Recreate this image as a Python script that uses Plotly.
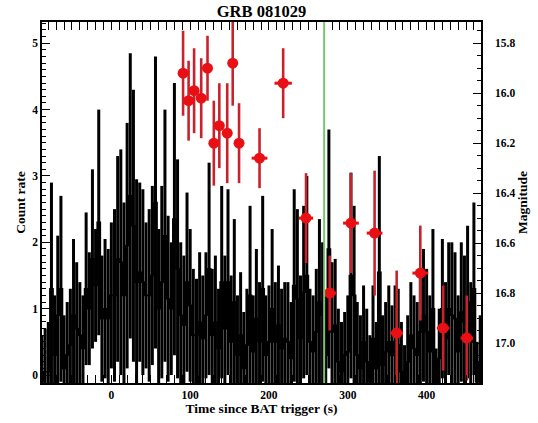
import plotly.graph_objects as go

# ---- BAT light curve (4 s bins starting at -88 s) ----
bin_start = -88.0
bin_width = 4.0
bat_rate = [
    -0.1, 0.05, 0.05, 1.3, 0.3, 0.9, 1.3, 0.1, 0.3, 0.45,
    0.9, 0.7, 0.6, 0.4, 1.3, 1.0, 1.75, 1.35, 2.3, 0.85,
    1.0, 0.85, 1.2, 1.2, 1.75, 1.7, 1.2, 1.95, 2.7, 2.25,
    1.4, 1.55, 1.4, 1.2, 1.2, 1.5, 2.6, 1.0, 1.4, 2.1,
    1.15, 1.0, 2.35, 1.6, 0.9, 0.75, 1.4, 1.05, 0.6, 0.6,
    0.8, 0.55, 0.9, 1.6, 0.6, 0.8, 0.4, 1.4, 0.7, 1.4,
    0.5, 1.1, 0.3, 0.6, 0.1, 0.45, 1.2, 0.35, 0.85, 0.5,
    1.3, 0.3, 0.5, 1.0, 0.5, 0.75, 0.4, 0.55, 0.5, 0.25,
    1.35, 1.15, 0.55, 1.25, 1.5, 0.5, 0.35, 0.65, 1.1, 0.9,
    0.3, 1.9, 0.65, 0.75, 0.2, 0.05, 0.3, 0.35, 1.5, 1.2,
    0.3, 0.1, 0.5, 0.2, -0.1, 0.55, 0.1, 1.55, 0.15, 0.35,
    0.5, 0.3, 0.5, 0.45, 0.05, -0.2, 0.2, 0.6, 0.4, 0.3,
    0.65, 0.9, 0.65, 0.35, 1.0, -0.2, 0.25, 1.0, 0.55, 1.0,
    0.9, 0.85, 0.35, 0.95, 0.8, 1.1, 0.5, 1.3, -0.1, 0.2,
]
bat_err = [
    0.7, 0.65, 0.75, 1.6, 0.9, 1.2, 1.4, 0.8, 0.8, 0.85,
    1.15, 1.0, 0.8, 0.8, 1.15, 0.85, 1.35, 0.85, 1.7, 0.95,
    1.05, 1.05, 1.1, 1.3, 1.55, 1.7, 1.4, 1.85, 2.15, 2.05,
    1.55, 1.35, 1.4, 1.1, 1.3, 1.35, 2.2, 1.2, 1.45, 1.9,
    1.25, 1.0, 2.05, 1.65, 1.1, 1.05, 1.35, 1.15, 1.0, 0.85,
    1.05, 0.95, 0.95, 1.6, 1.0, 1.0, 0.9, 1.45, 1.1, 1.4,
    1.0, 1.25, 0.9, 0.95, 0.85, 0.85, 1.35, 0.85, 1.05, 0.9,
    1.4, 0.9, 0.85, 1.2, 0.9, 0.9, 0.9, 0.85, 0.9, 0.85,
    1.45, 1.35, 0.95, 1.3, 1.5, 0.8, 0.85, 0.95, 1.25, 1.1,
    0.9, 1.8, 1.05, 1.0, 0.8, 0.75, 0.65, 0.85, 1.55, 1.35,
    0.8, 0.8, 0.85, 0.8, 0.7, 0.8, 0.7, 1.75, 0.75, 0.75,
    0.85, 0.75, 0.85, 0.85, 0.75, 0.65, 0.7, 0.8, 0.8, 0.8,
    0.85, 1.0, 0.95, 0.85, 1.2, 0.6, 0.75, 1.05, 0.85, 1.0,
    1.1, 1.0, 0.85, 1.05, 1.0, 1.15, 0.9, 1.3, 0.6, 0.7,
]
bat_time = [bin_start + bin_width * i for i in range(len(bat_rate))]

# ---- Optical photometry ----
opt_time = [91, 98, 105, 114, 122, 130, 137, 147, 154, 162,
            188, 218, 247, 277, 304, 334, 362, 392, 421, 451]
opt_time_err = [3, 3, 3, 3, 3, 3, 3, 3, 3, 3,
                10, 11, 9, 8, 10, 10, 8, 10, 8, 8]
opt_mag = [15.92, 16.03, 15.99, 16.02, 15.90, 16.20, 16.13, 16.16, 15.88, 16.20,
           16.26, 15.96, 16.50, 16.80, 16.52, 16.56, 16.96, 16.72, 16.94, 16.98]
opt_mag_err = [0.17, 0.16, 0.17, 0.16, 0.13, 0.17, 0.17, 0.20, 0.17, 0.16,
               0.12, 0.14, 0.18, 0.15, 0.20, 0.25, 0.25, 0.19, 0.17, 0.17]

marker_time = 270  # vertical reference time (s)

title_text = "GRB 081029"
x_title = "Time since BAT trigger (s)"
y_title = "Count rate"
y2_title = "Magnitude"
x_ticks = [0, 100, 200, 300, 400]
y_ticks = [0, 1, 2, 3, 4, 5]
y2_ticks = [15.8, 16.0, 16.2, 16.4, 16.6, 16.8, 17.0]

serif = "Liberation Serif"

fig = go.Figure()

fig.add_trace(go.Scatter(
    x=bat_time, y=bat_rate, mode="lines", line_shape="hvh",
    line=dict(color="black", width=1.6),
    error_y=dict(type="data", array=bat_err, visible=True,
                 color="black", thickness=3, width=0),
    hoverinfo="skip", showlegend=False,
))

fig.add_trace(go.Scatter(
    x=opt_time, y=opt_mag, yaxis="y2", mode="markers",
    marker=dict(color="rgb(232,16,20)", size=11, line=dict(width=0)),
    error_y=dict(type="data", array=opt_mag_err, visible=True,
                 color="rgb(200,35,45)", thickness=2.6, width=0),
    error_x=dict(type="data", array=opt_time_err, visible=True,
                 color="rgb(232,16,20)", thickness=3, width=0),
    hoverinfo="skip", showlegend=False,
))

fig.add_shape(type="line", x0=marker_time, x1=marker_time, xref="x",
              y0=0, y1=1, yref="paper",
              line=dict(color="rgb(115,198,115)", width=2), layer="above")

tick_font = dict(family=serif, size=11.5, color="black", weight="bold")
title_font = dict(family=serif, size=13.5, color="black", weight="bold")

fig.update_layout(
    width=538, height=423,
    margin=dict(l=42, r=57, t=22, b=40),
    paper_bgcolor="white", plot_bgcolor="white",
    title=dict(text="<b>" + title_text + "</b>", x=0.486, xanchor="center",
               y=1 - 11 / 423, yanchor="middle", yref="container",
               font=dict(family=serif, size=16.5, color="black")),
    xaxis=dict(
        range=[-88, 469], tickvals=x_ticks, ticks="inside", ticklen=8,
        tickwidth=1.2, tickcolor="black",
        minor=dict(dtick=10, ticks="inside", ticklen=4, tickcolor="black", tickwidth=1),
        showline=True, linecolor="black", linewidth=1.5, mirror="allticks",
        showgrid=False, zeroline=False, tickfont=tick_font,
        title=dict(text=x_title, font=title_font, standoff=0),
    ),
    yaxis=dict(
        range=[-0.12, 5.32], tickvals=y_ticks, ticks="inside", ticklen=8,
        tickwidth=1.2, tickcolor="black",
        minor=dict(dtick=0.1, ticks="inside", ticklen=4, tickcolor="black", tickwidth=1),
        showline=True, linecolor="black", linewidth=1.5,
        showgrid=False, zeroline=False, tickfont=tick_font,
        title=dict(text=y_title, font=title_font, standoff=3),
    ),
    yaxis2=dict(
        overlaying="y", side="right", anchor="x",
        range=[17.16, 15.715], tickvals=y2_ticks, tickformat=".1f",
        ticks="inside", ticklen=8, tickwidth=1.2, tickcolor="black",
        minor=dict(dtick=0.05, ticks="inside", ticklen=4, tickcolor="black", tickwidth=1),
        showline=True, linecolor="black", linewidth=1.5, ticklabelstandoff=10,
        showgrid=False, zeroline=False, tickfont=tick_font,
        title=dict(text=y2_title, font=title_font, standoff=2),
    ),
)

fig.write_html("out.html")
